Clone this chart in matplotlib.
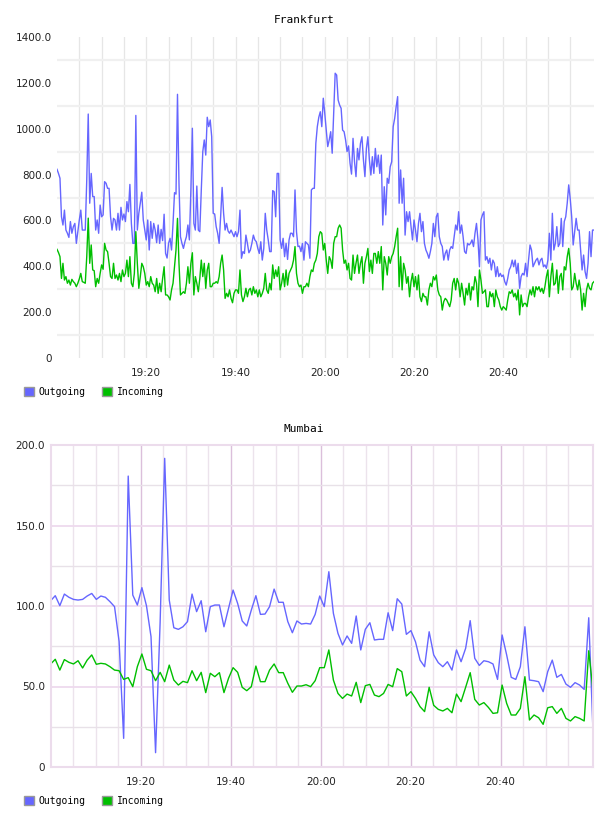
import numpy as np
import matplotlib
matplotlib.use("Agg")
import matplotlib.pyplot as plt
from matplotlib.patches import Patch
from matplotlib.ticker import FixedLocator, FuncFormatter, MultipleLocator

# ---- data ----
# Frankfurt, one sample every 20 s from 19:00
frank_out = [
    823, 805, 784, 616, 580, 645, 558, 544, 526, 595,
    544, 573, 587, 500, 551, 602, 645, 558, 558, 558,
    776, 1064, 675, 805, 704, 704, 558, 602, 544, 667,
    616, 624, 769, 762, 740, 740, 616, 558, 609, 602,
    558, 631, 558, 657, 602, 628, 595, 682, 638, 757,
    587, 500, 500, 1058, 558, 631, 675, 723, 602, 558,
    515, 602, 471, 595, 522, 587, 558, 503, 580, 500,
    561, 512, 627, 456, 436, 500, 522, 471, 587, 721,
    715, 1150, 762, 529, 500, 478, 507, 529, 580, 515,
    733, 1002, 587, 558, 750, 558, 551, 733, 900, 951,
    885, 1050, 1009, 1038, 965, 631, 628, 573, 544, 500,
    616, 744, 631, 558, 587, 554, 544, 558, 544, 529,
    551, 529, 551, 645, 435, 464, 456, 536, 500, 459,
    471, 500, 536, 515, 507, 478, 456, 507, 427, 478,
    631, 558, 515, 464, 464, 730, 725, 616, 805, 805,
    515, 478, 522, 442, 500, 430, 515, 544, 544, 529,
    733, 551, 486, 488, 464, 500, 427, 507, 500, 493,
    435, 733, 740, 740, 936, 1009, 1050, 1074, 1009, 1133,
    1067, 994, 922, 951, 987, 893, 1067, 1242, 1234,
    1125, 1103, 1089, 994, 987, 951, 900, 925, 849,
    802, 958, 856, 791, 914, 864, 936, 965, 864,
    791, 914, 965, 864, 798, 878, 805, 914, 834,
    885, 805, 885, 580, 747, 624, 784, 762, 834,
    856, 1009, 1045, 1096, 1140, 675, 820, 675, 784,
    536, 638, 595, 638, 573, 515, 602, 558, 507,
    587, 631, 551, 595, 500, 471, 456, 435, 464,
    500, 587, 529, 616, 631, 529, 500, 486, 427,
    456, 471, 427, 471, 486, 478, 529, 580, 558,
    638, 544, 580, 529, 464, 456, 500, 493, 500,
    515, 486, 544, 587, 515, 398, 602, 624, 638,
    427, 442, 413, 435, 384, 427, 413, 355, 398,
    355, 369, 355, 362, 333, 318, 347, 384, 398,
    427, 398, 427, 369, 413, 304, 355, 369, 362,
    413, 355, 427, 493, 471, 398, 413, 427, 435,
    406, 427, 435, 398, 406, 391, 427, 544, 427,
    631, 471, 500, 573, 486, 500, 609, 486, 595,
    616, 675, 755, 696, 616, 493, 551, 609, 558,
    558, 471, 384, 449, 377, 347, 413, 551, 442,
    558, 558,
]
frank_in = [
    474, 460, 442, 347, 413, 340, 355, 326, 340, 318,
    343, 333, 326, 311, 326, 345, 369, 333, 330, 326,
    442, 610, 413, 493, 384, 381, 311, 347, 326, 369,
    406, 387, 500, 471, 464, 413, 355, 347, 413, 347,
    362, 340, 369, 333, 384, 355, 369, 427, 355, 442,
    326, 311, 369, 551, 413, 304, 355, 413, 398, 369,
    318, 333, 311, 355, 326, 318, 289, 347, 282, 326,
    289, 347, 398, 275, 275, 267, 253, 297, 326, 398,
    471, 609, 413, 275, 282, 289, 282, 326, 398, 326,
    413, 459, 275, 355, 326, 289, 347, 427, 355, 413,
    304, 384, 413, 311, 311, 326, 326, 333, 326, 355,
    413, 449, 384, 260, 282, 267, 297, 260, 241, 282,
    297, 297, 282, 384, 275, 246, 267, 304, 267, 297,
    304, 275, 311, 282, 297, 267, 297, 267, 282, 304,
    369, 297, 282, 326, 297, 406, 347, 384, 355, 398,
    297, 326, 369, 311, 384, 318, 369, 384, 398, 427,
    486, 369, 326, 311, 318, 282, 311, 311, 326, 311,
    355, 384, 377, 413, 427, 456, 529, 551, 544, 471,
    500, 427, 369, 442, 427, 391, 500, 529, 529,
    566, 580, 566, 471, 413, 427, 384, 413, 347,
    340, 449, 369, 413, 449, 369, 413, 442, 326,
    413, 442, 478, 377, 427, 369, 456, 456, 413,
    464, 413, 486, 297, 442, 413, 362, 442, 413,
    442, 456, 486, 529, 566, 311, 442, 297, 413,
    384, 326, 355, 267, 333, 369, 311, 355, 297,
    362, 267, 246, 282, 267, 267, 231, 297, 326,
    311, 355, 340, 362, 297, 275, 267, 209, 246,
    260, 253, 238, 224, 253, 326, 347, 297, 347,
    326, 267, 326, 282, 231, 304, 275, 326, 253,
    311, 297, 355, 326, 224, 384, 340, 282, 289,
    297, 224, 224, 289, 267, 282, 224, 297, 267,
    253, 224, 209, 224, 217, 209, 253, 289, 282,
    297, 267, 282, 253, 297, 188, 275, 224, 238,
    238, 224, 267, 297, 275, 311, 267, 311, 297,
    311, 289, 304, 282, 311, 355, 384, 267, 355,
    413, 318, 326, 384, 282, 355, 369, 297, 398,
    384, 442, 478, 413, 297, 311, 369, 326, 297,
    340, 297, 209, 282, 224, 297, 326, 304, 297,
    326, 333,
]

# Mumbai, about one sample per minute from 19:00
mumbai_out = [
    103.3, 106.4, 100.2, 107.4, 105.4, 104.1, 103.7, 104.1, 106.2, 107.8,
    104.1, 106.2, 105.4, 102.7, 99.6, 78, 17.8, 180.7, 106.8, 100.6,
    111.4, 100.2, 81, 8.9, 90, 191.7, 103.7, 86.5, 85.5, 87.1,
    90.3, 107.4, 96.5, 103.3, 84, 99.6, 100.6, 100.6, 87.1, 98.5,
    109.9, 101.6, 90.7, 87.6, 97.5, 106.4, 94.8, 95, 99.6, 110.5,
    102.3, 102.3, 90.3, 83.4, 90.7, 88.8, 89.2, 88.8, 94.8, 106.2,
    99.6, 121.3, 95.4, 83, 75.8, 81.4, 76.8, 93.8, 72.7, 85.5,
    89.6, 78.9, 79.3, 79.3, 95.8, 84.7, 104.5, 101.2, 82.4, 84.7,
    77.8, 66.4, 62.3, 84, 69.6, 64.8, 62.3, 65.4, 60.2, 72.7,
    65.4, 73.7, 90.9, 67.5, 63.1, 66, 65.4, 64, 54.4, 82,
    69.6, 55.7, 54.4, 62.3, 87.1, 54, 53.6, 53, 46.8, 59.2,
    66.4, 55.7, 57.5, 51.5, 49.5, 52.4, 50.9, 48.2, 92.7, 17.2,
]
mumbai_in = [
    64, 66.9, 60.2, 66.7, 65, 64, 66, 61.5, 66.4, 69.6,
    63.8, 64.4, 64, 62.3, 60.2, 59.8, 54.4, 55.5, 49.9, 62.3,
    70.2, 60.7, 59.8, 53.6, 58.8, 53, 63.3, 54, 50.9, 53.2,
    52.4, 59.8, 53.6, 58.8, 46.2, 58.2, 56.1, 58.6, 46.2, 55.1,
    61.7, 58.8, 49.5, 47.4, 49.9, 62.7, 53, 53, 60.2, 64,
    58.6, 58.6, 52, 46.4, 50.3, 50.3, 51.1, 49.9, 53.6, 61.7,
    61.7, 72.7, 54, 45.7, 42.6, 45.3, 44.1, 52.6, 40, 50.5,
    51.3, 44.7, 43.7, 45.7, 51.3, 49.9, 61.1, 59.2, 44.1, 46.8,
    42.6, 37.5, 34.4, 49.5, 38.3, 35.8, 34.8, 36.4, 33.7, 45.3,
    40.6, 49.5, 58.6, 42, 38.5, 40, 37, 33.3, 33.7, 50.9,
    39.5, 32.3, 32.3, 36.4, 56.1, 29.2, 32.3, 30.6, 26.5, 36.8,
    37.5, 33.3, 36.4, 30.2, 28.6, 31.3, 30.2, 28.6, 72.2, 45.7,
]

frank_step = 20 / 60.0      # minutes between samples
mumbai_step = 60.8 / 60.0
tick_minutes = [20, 40, 60, 80, 100]   # minutes after 19:00
tick_labels = ["19:20", "19:40", "20:00", "20:20", "20:40"]
series_names = ["Outgoing", "Incoming"]

OUT_C = "#6666ff"
IN_C = "#00bf00"
W, H = 608, 816

fig = plt.figure(figsize=(W / 100, H / 100), dpi=100)


def fmt_val(v, pos):
    return "0" if v == 0 else "%.1f" % v


def add_legend(y_px):
    handles = [Patch(facecolor=OUT_C, edgecolor="#999999", lw=1),
               Patch(facecolor=IN_C, edgecolor="#999999", lw=1)]
    fig.legend(handles, series_names, loc="center left",
               bbox_to_anchor=(24 / W, 1 - y_px / H), bbox_transform=fig.transFigure,
               ncol=2, frameon=False, borderpad=0, borderaxespad=0,
               handlelength=1.03, handleheight=1.03, handletextpad=0.5,
               columnspacing=1.65, prop={"family": "DejaVu Sans Mono", "size": 7})


def base_axes(ax, t_end, ymax, ystep):
    ax.set_xlim(0, t_end)
    ax.set_ylim(0, ymax)
    ax.set_xticks(tick_minutes)
    ax.set_xticklabels(tick_labels)
    ax.yaxis.set_major_locator(MultipleLocator(ystep))
    ax.yaxis.set_major_formatter(FuncFormatter(fmt_val))
    ax.tick_params(length=0, labelsize=7.5, labelcolor="#222222")
    ax.tick_params(axis="y", pad=4)
    ax.tick_params(axis="x", pad=7.5)
    ax.set_axisbelow(True)


# ---------------- Frankfurt ----------------
ax1 = fig.add_axes([57 / W, 1 - 358 / H, 537 / W, 321 / H])
t1 = np.arange(len(frank_out)) * frank_step
ax1.plot(t1, frank_out, color=OUT_C, lw=1.0)
ax1.plot(np.arange(len(frank_in)) * frank_step, frank_in, color=IN_C, lw=1.0)
base_axes(ax1, t1[-1], 1400, 200)
ax1.yaxis.set_minor_locator(FixedLocator(np.arange(100, 1400, 200)))
ax1.xaxis.set_minor_locator(FixedLocator(np.arange(5, 120, 5)))
ax1.tick_params(which="minor", length=0)
ax1.grid(which="minor", axis="y", color="#f0f0f0", lw=1.6)
ax1.grid(which="both", axis="x", color="#e6e6e6", lw=0.9)
for s in ax1.spines.values():
    s.set_visible(False)
fig.text(0.5, 1 - 20 / H, "Frankfurt", ha="center", va="center",
         family="DejaVu Sans Mono", size=8)
add_legend(392)

# ---------------- Mumbai ----------------
ax2 = fig.add_axes([50.7 / W, 1 - 767 / H, 542.6 / W, 322 / H])
t2 = np.arange(len(mumbai_out)) * mumbai_step
ax2.plot(t2, mumbai_out, color=OUT_C, lw=1.0)
ax2.plot(np.arange(len(mumbai_in)) * mumbai_step, mumbai_in, color=IN_C, lw=1.0)
base_axes(ax2, t2[-1], 200, 50)
ax2.yaxis.set_minor_locator(FixedLocator([25, 75, 125, 175]))
ax2.xaxis.set_minor_locator(FixedLocator([m for m in range(5, 120, 5) if m % 20]))
ax2.tick_params(which="minor", length=0)
ax2.grid(which="major", axis="y", color="#eedaee", lw=1.3)
ax2.grid(which="minor", axis="y", color="#e8e1e8", lw=1.0)
ax2.grid(which="major", axis="x", color="#dbbfdb", lw=1.0)
ax2.grid(which="minor", axis="x", color="#ece3ec", lw=1.0)
for s in ax2.spines.values():
    s.set_color("#ecdcec")
    s.set_linewidth(1.5)
fig.text(0.5, 1 - 429 / H, "Mumbai", ha="center", va="center",
         family="DejaVu Sans Mono", size=8)
add_legend(801)

fig.savefig("out.png", dpi=100)
